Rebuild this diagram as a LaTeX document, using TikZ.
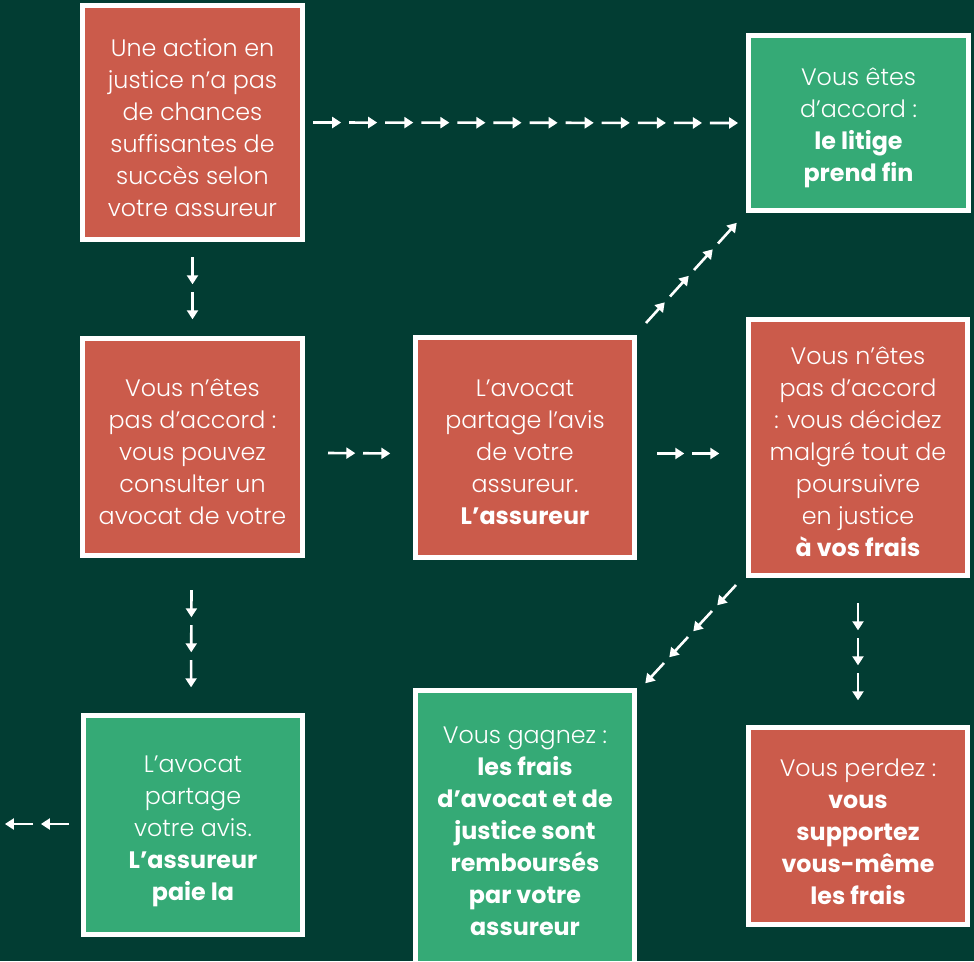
\documentclass[tikz,border=0pt]{standalone}
\usepackage{fontspec}
\setmainfont{Poppins Light}[BoldFont={Poppins Bold}]
\usetikzlibrary{arrows.meta,calc}
\definecolor{bg}{HTML}{023D33}
\definecolor{boxred}{HTML}{CB5B4B}
\definecolor{boxgreen}{HTML}{35AA76}
\newcommand\arrowchain[3]{%
  \foreach \i in {1,...,#3}{%
    \draw[chainarrow] ($(#1)!{(\i-1)/#3}!(#2)$) -- ($(#1)!{(\i-1+0.78)/#3}!(#2)$);
  }%
}
\begin{document}
\begin{tikzpicture}[x=1pt,y=-1pt,
  box/.style={draw=white, line width=5pt, minimum width=220pt, inner sep=0pt},
  redbox/.style={box, fill=boxred},
  greenbox/.style={box, fill=boxgreen},
  boxtext/.style={text=white, align=center, inner sep=0pt,
    font=\fontsize{23.8}{32}\selectfont},
  chainarrow/.style={white, line width=2.6pt, -{Triangle[length=9pt,width=11pt]}}]
\fill[bg] (0,0) rectangle (974,961);
\useasboundingbox (0,0) rectangle (974,961);
\clip (0,0) rectangle (974,961);

\node[redbox, minimum height=234pt] (n1) at (192.5,122.5) {};
\node[greenbox, minimum height=175pt] (n2) at (858.5,123) {};
\node[redbox, minimum height=217pt] (n3) at (192.5,447) {};
\node[redbox, minimum width=219pt, minimum height=220pt] (n4) at (525,447.5) {};
\node[redbox, minimum width=219pt, minimum height=256pt] (n5) at (858,447.5) {};
\node[greenbox, minimum width=219pt, minimum height=219pt] (n6) at (193,825) {};
\node[greenbox, minimum width=219pt, minimum height=273pt] (n7) at (525,827) {};
\node[redbox, minimum width=219pt, minimum height=197pt] (n8) at (858,826) {};

\node[boxtext] (t1) at ($(n1.center)+(0,5)$)
  {Une action en\\justice n’a pas\\de chances\\suffisantes de\\succès selon\\votre assureur};
\node[boxtext] (t2) at ($(n2.center)+(0,5)$)
  {Vous êtes\\d’accord :\\\textbf{le litige}\\\textbf{prend fin}};
\node[boxtext] (t3) at ($(n3.center)+(0,5)$)
  {Vous n’êtes\\pas d’accord :\\vous pouvez\\consulter un\\avocat de votre};
\node[boxtext] (t4) at ($(n4.center)+(0,5)$)
  {L’avocat\\partage l’avis\\de votre\\assureur.\\\textbf{L’assureur}};
\node[boxtext] (t5) at ($(n5.center)+(0,4)$)
  {Vous n’êtes\\pas d’accord\\: vous décidez\\malgré tout de\\poursuivre\\en justice\\\textbf{à vos frais}};
\node[boxtext] (t6) at ($(n6.center)+(0,6)$)
  {L’avocat\\partage\\votre avis.\\\textbf{L’assureur}\\\textbf{paie la}};
\node[boxtext] (t7) at ($(n7.center)+(0,4)$)
  {Vous gagnez :\\\textbf{les frais}\\\textbf{d’avocat et de}\\\textbf{justice sont}\\\textbf{remboursés}\\\textbf{par votre}\\\textbf{assureur}};
\node[boxtext] (t8) at ($(n8.center)+(0,6)$)
  {Vous perdez :\\\textbf{vous}\\\textbf{supportez}\\\textbf{vous-même}\\\textbf{les frais}};

% connector end points
\coordinate (a1s) at ($(n1.east)+(8,0)$);
\coordinate (a1e) at (n2.west);
\coordinate (a2s) at ($(n1.south)+(0,15)$);
\coordinate (a2e) at ($(n3.north)+(0,-9)$);
\coordinate (a3s) at ($(n3.east)+(23,6)$);
\coordinate (a3e) at ($(n4.west)+(-15,6)$);
\coordinate (a4s) at ($(n4.east)+(20,6)$);
\coordinate (a4e) at ($(n5.west)+(-19,6)$);
\coordinate (a5s) at ($(n3.south)+(-1,32)$);
\coordinate (a5e) at ($(n6.north)+(-2,-18)$);
\coordinate (a6s) at ($(n5.south)+(0,25)$);
\coordinate (a6e) at ($(n8.north)+(0,-17)$);
\coordinate (a7s) at ($(n6.west)+(-12,-1)$);
\coordinate (a7e) at ($(n6.west)+(-84,-1)$);
\coordinate (a8s) at ($(n4.north east)+(9,-12)$);
\coordinate (a8e) at ($(n2.south west)+(-4,4)$);
\coordinate (a9s) at ($(n5.south west)+(-10,7)$);
\coordinate (a9e) at ($(n7.north east)+(3,1)$);

\arrowchain{a1s}{a1e}{12}
\arrowchain{a2s}{a2e}{2}
\arrowchain{a3s}{a3e}{2}
\arrowchain{a4s}{a4e}{2}
\arrowchain{a5s}{a5e}{3}
\arrowchain{a6s}{a6e}{3}
\arrowchain{a7s}{a7e}{2}
\arrowchain{a8s}{a8e}{4}
\arrowchain{a9s}{a9e}{4}
\end{tikzpicture}
\end{document}
